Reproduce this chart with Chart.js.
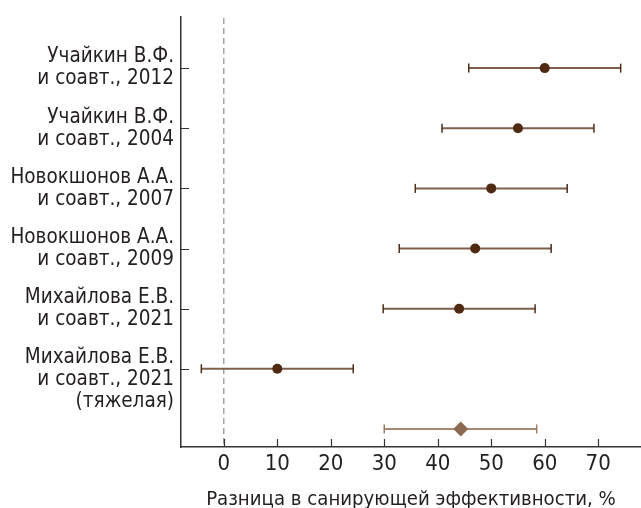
<!DOCTYPE html>
<html><head><meta charset="utf-8">
<script src="https://cdn.jsdelivr.net/npm/chart.js@4"></script>
<style>html,body{margin:0;padding:0;background:#fff;overflow:hidden;width:641px;height:508px;} #wrap{width:641px;height:508px;position:relative;overflow:hidden;} canvas{display:block;}</style>
</head><body><div id="wrap"><canvas id="c"></canvas></div>
<script>
const studies = [
  ["Учайкин В.Ф.", "и соавт., 2012"],
  ["Учайкин В.Ф.", "и соавт., 2004"],
  ["Новокшонов А.А.", "и соавт., 2007"],
  ["Новокшонов А.А.", "и соавт., 2009"],
  ["Михайлова Е.В.", "и соавт., 2021"],
  ["", "Михайлова Е.В.", "и соавт., 2021", "(тяжелая)"]
];
const effect = [60, 55, 50, 47, 44, 10];
const lower  = [45.8, 40.8, 35.8, 32.8, 29.8, -4.2];
const upper  = [74.2, 69.2, 64.2, 61.2, 58.2, 24.2];
const pooledEffect = [44.3];
const pooledLower = [30.0];
const pooledUpper = [58.5];
const xTicks = [0, 10, 20, 30, 40, 50, 60, 70];
const xTitle = "Разница в санирующей эффективности, %";

const FONT = "'Liberation Sans Narrow', 'DejaVu Sans Condensed', 'Roboto', sans-serif";
const TEXT = '#231f20';
const AXIS = '#333333';

const rowOf = i => i + 1;
const pooledRow = studies.length + 1;

const datasets = [];
datasets.push({
  type: 'scatter',
  data: effect.map((v, i) => ({x: v, y: rowOf(i)})),
  pointStyle: 'circle', pointRadius: 5, pointHoverRadius: 5,
  backgroundColor: '#4f2912', borderWidth: 0
});
datasets.push({
  type: 'scatter',
  data: pooledEffect.map(v => ({x: v, y: pooledRow})),
  pointStyle: 'rectRot', pointRadius: 7.5, pointHoverRadius: 7.5,
  backgroundColor: '#8b6a52', borderWidth: 0
});
effect.forEach((v, i) => {
  datasets.push({
    type: 'line',
    data: [{x: lower[i], y: rowOf(i)}, {x: upper[i], y: rowOf(i)}],
    borderColor: '#7d604c', borderWidth: 2,
    pointStyle: 'line', rotation: 90, pointRadius: 4.5, pointHoverRadius: 4.5,
    pointBorderColor: '#4e2c17', pointBorderWidth: 1.5, pointBackgroundColor: '#4e2c17'
  });
});
datasets.push({
  type: 'line',
  data: [{x: pooledLower[0], y: pooledRow}, {x: pooledUpper[0], y: pooledRow}],
  borderColor: '#a88a74', borderWidth: 2,
  pointStyle: 'line', rotation: 90, pointRadius: 4.5, pointHoverRadius: 4.5,
  pointBorderColor: '#9a7b64', pointBorderWidth: 1.5
});
datasets.push({
  type: 'line',
  data: [{x: 0, y: 0}, {x: 0, y: 8}],
  borderColor: '#8c8c8c', borderWidth: 1.2, borderDash: [6, 4],
  pointRadius: 0
});

const inwardTicks = {
  id: 'inwardTicks',
  afterDraw(chart) {
    const ctx = chart.ctx, xs = chart.scales.x, ys = chart.scales.y, a = chart.chartArea;
    ctx.save();
    ctx.strokeStyle = AXIS; ctx.lineWidth = 1.2;
    ctx.beginPath();
    xs.ticks.forEach(t => { const px = Math.round(xs.getPixelForValue(t.value)) + 0.5; ctx.moveTo(px, a.bottom); ctx.lineTo(px, a.bottom - 8); });
    ys.ticks.forEach(t => { const py = Math.round(ys.getPixelForValue(t.value)) + 0.5; ctx.moveTo(a.left, py); ctx.lineTo(a.left + 8, py); });
    ctx.stroke();
    ctx.restore();
  }
};

new Chart(document.getElementById('c'), {
  type: 'scatter',
  data: { datasets },
  options: {
    responsive: true, maintainAspectRatio: false, animation: false,
    layout: { autoPadding: false, padding: { top: 17, right: 0, left: 0, bottom: 0 } },
    plugins: { legend: { display: false }, tooltip: { enabled: false } },
    scales: {
      x: {
        type: 'linear', position: 'bottom', min: -8, max: 78,
        afterBuildTicks: s => { s.ticks = xTicks.map(v => ({value: v})); },
        afterFit: s => { s.height = 61; s.paddingLeft = 0; s.paddingRight = 0; },
        grid: { display: true, drawOnChartArea: false, drawTicks: false },
        border: { display: true, color: AXIS, width: 1.5 },
        ticks: { autoSkip: false, maxRotation: 0, color: TEXT, padding: 4, font: { family: FONT, size: 22, lineHeight: 1.2 }, callback: v => String(v) },
        title: { display: true, text: xTitle, color: TEXT, padding: { top: 0, bottom: 0 }, font: { family: FONT, size: 20.2, lineHeight: 0.85 } }
      },
      y: {
        type: 'linear', reverse: true, min: 0.15, max: 7.3,
        afterBuildTicks: s => { s.ticks = studies.map((_, i) => ({value: rowOf(i)})); },
        afterFit: s => { s.width = 181; s.paddingTop = 0; s.paddingBottom = 0; },
        grid: { display: true, drawOnChartArea: false, drawTicks: false },
        border: { display: true, color: AXIS, width: 1.5 },
        ticks: { autoSkip: false, color: TEXT, padding: 7, font: { family: FONT, size: 20.5, lineHeight: 1.07 }, callback: (v, i) => studies[i] }
      }
    }
  },
  plugins: [inwardTicks]
});
</script>
</body></html>
